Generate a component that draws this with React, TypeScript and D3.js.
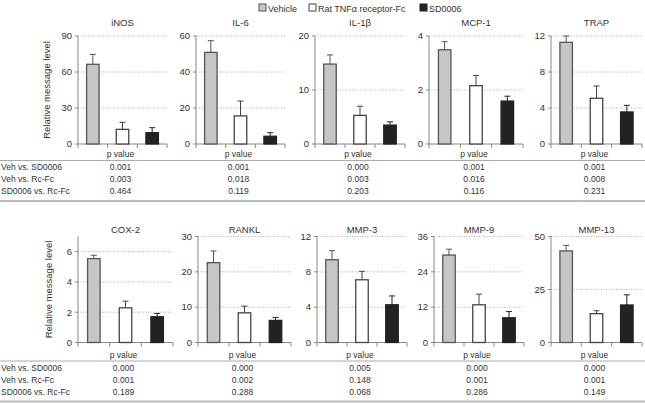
import React from "react";
import * as d3 from "d3";

const groups = ["Vehicle", "Rat TNFα receptor-Fc", "SD0006"];
const rowLabels = ["Veh vs. SD0006", "Veh vs. Rc-Fc", "SD0006 vs. Rc-Fc"];

const genes1 = ["iNOS", "IL-6", "IL-1β", "MCP-1", "TRAP"];
const yMax1 = [90, 60, 20, 4, 12];
const yTicks1 = [[0, 30, 60, 90], [0, 20, 40, 60], [0, 10, 20], [0, 2, 4], [0, 4, 8, 12]];
const vehicle1 = [66.4, 50.9, 14.8, 3.49, 11.3];
const vehicleErr1 = [8.3, 6.5, 1.7, 0.3, 0.7];
const rat1 = [12.2, 15.6, 5.3, 2.16, 5.08];
const ratErr1 = [5.9, 8.3, 1.7, 0.38, 1.36];
const sd1 = [9.4, 4.3, 3.5, 1.59, 3.56];
const sdErr1 = [4.2, 2.0, 0.6, 0.18, 0.74];
const pVehSd1 = ["0.001", "0.001", "0.000", "0.001", "0.001"];
const pVehRc1 = ["0.003", "0.018", "0.003", "0.016", "0.008"];
const pSdRc1 = ["0.464", "0.119", "0.203", "0.116", "0.231"];

const genes2 = ["COX-2", "RANKL", "MMP-3", "MMP-9", "MMP-13"];
const yMax2 = [7, 30, 12, 36, 50];
const yTicks2 = [[0, 2, 4, 6], [0, 10, 20, 30], [0, 4, 8, 12], [0, 12, 24, 36], [0, 25, 50]];
const vehicle2 = [5.54, 22.6, 9.37, 29.7, 43.2];
const vehicleErr2 = [0.22, 3.3, 1.03, 2.0, 2.6];
const rat2 = [2.29, 8.4, 7.1, 12.8, 13.6];
const ratErr2 = [0.44, 1.9, 0.96, 3.6, 1.4];
const sd2 = [1.7, 6.25, 4.27, 8.4, 17.7];
const sdErr2 = [0.22, 0.85, 1.0, 2.1, 4.8];
const pVehSd2 = ["0.000", "0.000", "0.005", "0.000", "0.000"];
const pVehRc2 = ["0.001", "0.002", "0.148", "0.001", "0.001"];
const pSdRc2 = ["0.189", "0.288", "0.068", "0.286", "0.149"];

const FONT = "'Liberation Sans', Arial, sans-serif";
const TEXT = "#333";
const fills = ["#c6c6c6", "#ffffff", "#222222"];
const strokes = ["#555", "#444", "#222"];

type RowCfg = {
  genes: string[];
  yMax: number[];
  yTicks: number[][];
  means: number[][];
  errs: number[][];
  pvals: string[][];
  x0: number[];
  w: number[];
  top: number;
  bottom: number;
  titleY: number;
  labelX: number;
  tableY: number;
};

const rows: RowCfg[] = [
  {
    genes: genes1, yMax: yMax1, yTicks: yTicks1,
    means: [vehicle1, rat1, sd1], errs: [vehicleErr1, ratErr1, sdErr1],
    pvals: [pVehSd1, pVehRc1, pSdRc1],
    x0: [78, 196, 315, 429, 551], w: [89, 89, 90, 94, 91],
    top: 36, bottom: 144, titleY: 26, labelX: 50, tableY: 157,
  },
  {
    genes: genes2, yMax: yMax2, yTicks: yTicks2,
    means: [vehicle2, rat2, sd2], errs: [vehicleErr2, ratErr2, sdErr2],
    pvals: [pVehSd2, pVehRc2, pSdRc2],
    x0: [78, 198, 317, 434, 551], w: [95, 93, 90, 90, 91],
    top: 236.5, bottom: 342.5, titleY: 233, labelX: 52, tableY: 357.5,
  },
];

function Panel({ row, i }: { row: RowCfg; i: number }) {
  const x0 = row.x0[i];
  const w = row.w[i];
  const y = d3.scaleLinear().domain([0, row.yMax[i]]).range([row.bottom, row.top]);
  const x = d3.scaleBand<number>().domain([0, 1, 2]).range([x0, x0 + w]).paddingInner(0).paddingOuter(0);
  const bw = 12.5;
  const boundaries = [0, 1, 2].map((k) => x(k)!).concat([x0 + w]);
  return (
    <g>
      <text x={x0 + w / 2} y={row.titleY} textAnchor="middle" fontSize={9.5} fill={TEXT} fontFamily={FONT}>
        {row.genes[i]}
      </text>
      {row.yTicks[i].filter((t) => t > 0).map((t) => (
        <line key={"g" + t} x1={x0} x2={x0 + w} y1={y(t)} y2={y(t)} stroke="#999" strokeWidth={0.8} strokeDasharray="1,1.5" />
      ))}
      <line x1={x0} x2={x0} y1={y(row.yMax[i])} y2={row.bottom} stroke="#888" strokeWidth={1} />
      <line x1={x0} x2={x0 + w} y1={row.bottom} y2={row.bottom} stroke="#888" strokeWidth={1} />
      {row.yTicks[i].map((t) => (
        <g key={"t" + t}>
          <line x1={x0 - 3} x2={x0} y1={y(t)} y2={y(t)} stroke="#888" />
          <text x={x0 - 6} y={y(t) + 3.3} textAnchor="end" fontSize={9.5} fill={TEXT} fontFamily={FONT}>{t}</text>
        </g>
      ))}
      {boundaries.map((b, k) => (
        <line key={"b" + k} x1={b} x2={b} y1={row.bottom} y2={row.bottom + 4} stroke="#888" />
      ))}
      {[0, 1, 2].map((g) => {
        const cx = x(g)! + x.bandwidth() / 2;
        const v = row.means[g][i];
        const e = row.errs[g][i];
        return (
          <g key={"bar" + g}>
            <line x1={cx} x2={cx} y1={y(v)} y2={y(v + e)} stroke={strokes[g]} strokeWidth={1} />
            <line x1={cx - 3} x2={cx + 3} y1={y(v + e)} y2={y(v + e)} stroke={strokes[g]} strokeWidth={1} />
            <rect x={cx - bw / 2} y={y(v)} width={bw} height={row.bottom - y(v)} fill={fills[g]} stroke={strokes[g]} strokeWidth={1.3} />
          </g>
        );
      })}
    </g>
  );
}

function Table({ row }: { row: RowCfg }) {
  const ty = row.tableY;
  const centers = row.x0.map((x0, i) => x0 + row.w[i] / 2 - 2);
  const rowYs = [ty + 13, ty + 25, ty + 37];
  return (
    <g fontFamily={FONT} fontSize={8.5} fill={TEXT}>
      {centers.map((c, i) => (
        <text key={"h" + i} x={c} y={ty} textAnchor="middle">p value</text>
      ))}
      <line x1={0} x2={645} y1={ty + 3.5} y2={ty + 3.5} stroke="#aaa" strokeWidth={1} />
      {rowLabels.map((lab, r) => (
        <g key={"r" + r}>
          <text x={1} y={rowYs[r]}>{lab}</text>
          {centers.map((c, i) => (
            <text key={"v" + i} x={c} y={rowYs[r]} textAnchor="middle">{row.pvals[r][i]}</text>
          ))}
        </g>
      ))}
      <line x1={0} x2={645} y1={ty + 44} y2={ty + 44} stroke="#bbb" strokeWidth={2} />
    </g>
  );
}

function Legend() {
  const items = [
    { x: 259, tx: 268 },
    { x: 309, tx: 318 },
    { x: 420, tx: 429 },
  ];
  return (
    <g fontFamily={FONT} fontSize={9} fill={TEXT}>
      {groups.map((g, k) => (
        <g key={g}>
          <rect x={items[k].x} y={4} width={7} height={7} fill={fills[k]} stroke={strokes[k]} strokeWidth={1} />
          <text x={items[k].tx} y={11.5}>{g}</text>
        </g>
      ))}
    </g>
  );
}

export default function App() {
  return (
    <svg width={645} height={405} style={{ position: "absolute", left: 0, top: 0, background: "#fff" }}>
      <rect width={645} height={405} fill="#fff" />
      <Legend />
      {rows.map((row, r) => (
        <g key={"row" + r}>
          <text
            transform={`translate(${row.labelX},${(row.top + row.bottom) / 2}) rotate(-90)`}
            textAnchor="middle"
            fontSize={9.5}
            fill={TEXT}
            fontFamily={FONT}
          >
            Relative message level
          </text>
          {row.genes.map((_, i) => (
            <Panel key={i} row={row} i={i} />
          ))}
          <Table row={row} />
        </g>
      ))}
    </svg>
  );
}
